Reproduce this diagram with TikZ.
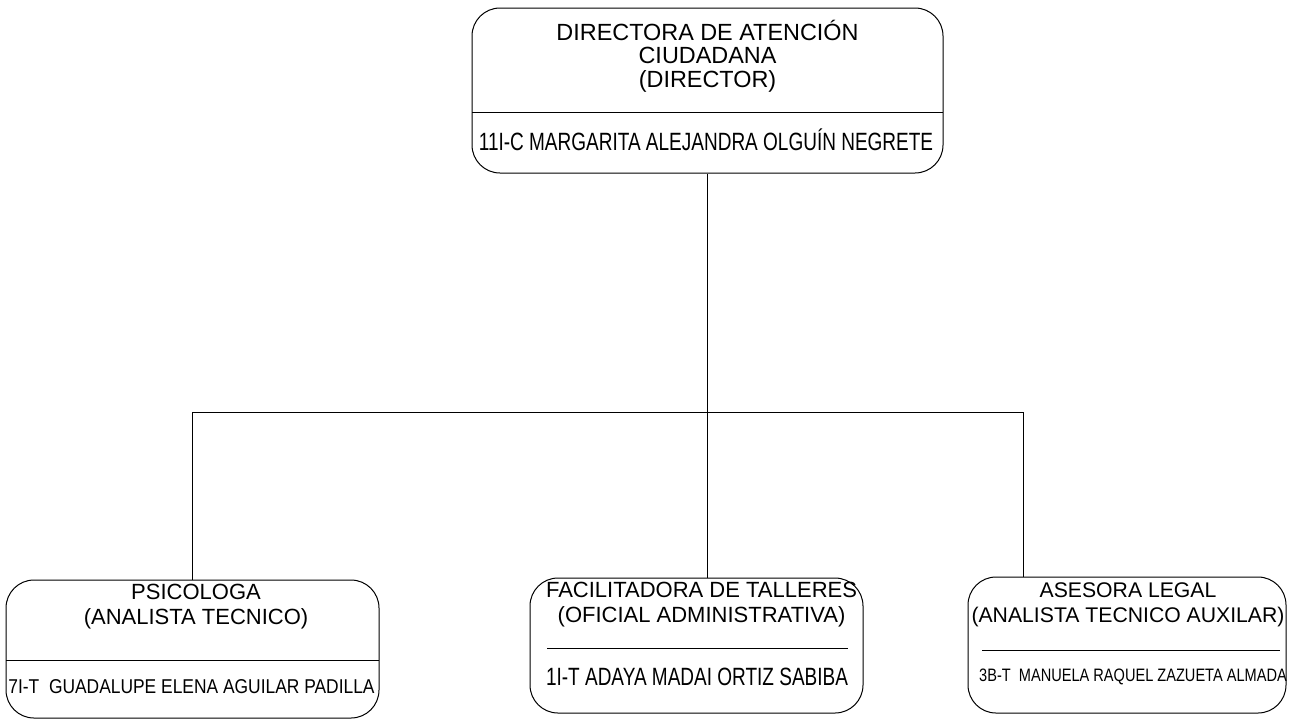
\documentclass[tikz,border=0pt]{standalone}
\usepackage{fontspec}
\setmainfont{Liberation Sans}
\newfontfamily\namefont[FakeStretch=0.76]{Liberation Sans}
\newfontfamily\namefontb[FakeStretch=0.87]{Liberation Sans}
\newfontfamily\namefontc[FakeStretch=0.81]{Liberation Sans}
\begin{document}
\begin{tikzpicture}[
    x=0.5pt,y=-0.5pt,
    box/.style 2 args={draw,rounded corners=14pt,line width=0.5pt,inner sep=0pt,minimum width=#1,minimum height=#2},
    title/.style={align=center,inner sep=0pt,font=\fontsize{11}{12.8}\selectfont},
    bigtitle/.style={align=center,inner sep=0pt,font=\fontsize{11.7}{11.75}\selectfont},
    link/.style={line width=0.45pt},
    divider/.style={line width=0.5pt}
]
\useasboundingbox (0,0) rectangle (1289,719);

%Draw the boxes
\node[box={235.5pt}{82.5pt}] (dir) at (707.5,90.5) {};
\node[box={186.5pt}{69pt}] (psi) at (192.5,649) {};
\node[box={166.5pt}{67.5pt}] (fac) at (696.5,645.5) {};
\node[box={159pt}{68pt}] (ase) at (1127,645) {};

%Draw the texts
\node[bigtitle] (dir-title) at (707.5,56) {DIRECTORA DE ATENCIÓN\\CIUDADANA\\(DIRECTOR)};
\node[inner sep=0pt,font=\fontsize{12.5}{13}\namefont] (dir-name) at (706,140) {11I-C MARGARITA ALEJANDRA OLGUÍN NEGRETE};
\node[title] (psi-title) at (196,606.5) {PSICOLOGA\\(ANALISTA TECNICO)};
\node[inner sep=0pt,font=\fontsize{10}{11}\namefontb] (psi-name) at (191.5,687) {7I-T\ \ GUADALUPE ELENA AGUILAR PADILLA};
\node[title] (fac-title) at (701.5,604.5) {FACILITADORA DE TALLERES\\(OFICIAL ADMINISTRATIVA)};
\node[inner sep=0pt,font=\fontsize{12.5}{13}\namefont] (fac-name) at (697,677) {1I-T ADAYA MADAI ORTIZ SABIBA};
\node[title,font=\fontsize{10.6}{12.6}\selectfont] (ase-title) at (1128,604.5) {ASESORA LEGAL\\(ANALISTA TECNICO AUXILAR)};
\node[inner sep=0pt,font=\fontsize{9}{10}\namefontc] (ase-name) at (1133,677) {3B-T\ \ MANUELA RAQUEL ZAZUETA ALMADA};

%Draw the dividers
\draw[divider] (472,112) -- (943,112);
\draw[divider] (6,660) -- (379,660);
\draw[divider] (547,648) -- (848,648);
\draw[divider] (982,650) -- (1280,650);

%Draw the connections
\coordinate (bus) at (706,412);
\coordinate (ase-in) at (1023,577);
\draw[link] (dir.south) -- (dir.south |- fac.north);
\draw[link] (psi.north) |- (bus) -| (ase-in);

\end{tikzpicture}
\end{document}
